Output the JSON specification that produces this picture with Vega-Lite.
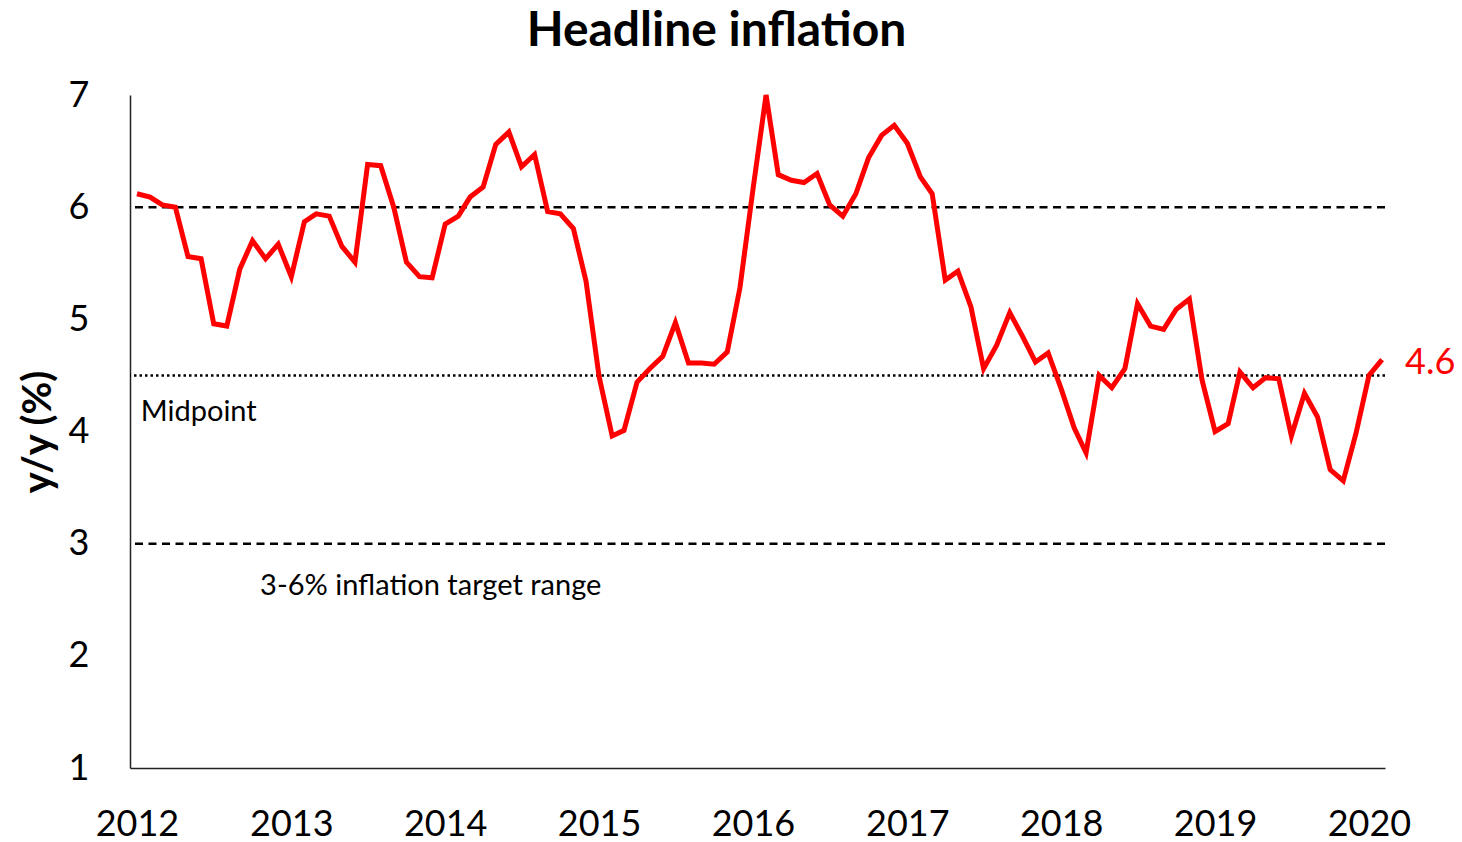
{
  "$schema": "https://vega.github.io/schema/vega-lite/v6.json",
  "width": 1255,
  "height": 673,
  "autosize": {"type": "none"},
  "padding": {"left": 130, "top": 95, "right": 77, "bottom": 74},
  "background": "white",
  "config": {
    "view": {"stroke": null},
    "font": "Lato"
  },
  "title": {
    "text": "Headline inflation",
    "font": "Lato",
    "fontSize": 48,
    "fontWeight": "bold",
    "color": "black",
    "anchor": "middle",
    "frame": "group",
    "dx": -41,
    "offset": 21
  },
  "datasets": {
    "cpi": [
      {"date": "2012-01-01", "value": 6.12}, {"date": "2012-02-01", "value": 6.09}, {"date": "2012-03-01", "value": 6.02}, {"date": "2012-04-01", "value": 6.00},
      {"date": "2012-05-01", "value": 5.56}, {"date": "2012-06-01", "value": 5.54}, {"date": "2012-07-01", "value": 4.96}, {"date": "2012-08-01", "value": 4.94},
      {"date": "2012-09-01", "value": 5.45}, {"date": "2012-10-01", "value": 5.70}, {"date": "2012-11-01", "value": 5.54}, {"date": "2012-12-01", "value": 5.67},
      {"date": "2013-01-01", "value": 5.38}, {"date": "2013-02-01", "value": 5.87}, {"date": "2013-03-01", "value": 5.94}, {"date": "2013-04-01", "value": 5.92},
      {"date": "2013-05-01", "value": 5.65}, {"date": "2013-06-01", "value": 5.51}, {"date": "2013-07-01", "value": 6.38}, {"date": "2013-08-01", "value": 6.37},
      {"date": "2013-09-01", "value": 6.00}, {"date": "2013-10-01", "value": 5.51}, {"date": "2013-11-01", "value": 5.38}, {"date": "2013-12-01", "value": 5.37},
      {"date": "2014-01-01", "value": 5.85}, {"date": "2014-02-01", "value": 5.92}, {"date": "2014-03-01", "value": 6.09}, {"date": "2014-04-01", "value": 6.18},
      {"date": "2014-05-01", "value": 6.56}, {"date": "2014-06-01", "value": 6.67}, {"date": "2014-07-01", "value": 6.36}, {"date": "2014-08-01", "value": 6.47},
      {"date": "2014-09-01", "value": 5.96}, {"date": "2014-10-01", "value": 5.94}, {"date": "2014-11-01", "value": 5.81}, {"date": "2014-12-01", "value": 5.34},
      {"date": "2015-01-01", "value": 4.49}, {"date": "2015-02-01", "value": 3.96}, {"date": "2015-03-01", "value": 4.01}, {"date": "2015-04-01", "value": 4.44},
      {"date": "2015-05-01", "value": 4.56}, {"date": "2015-06-01", "value": 4.67}, {"date": "2015-07-01", "value": 4.97}, {"date": "2015-08-01", "value": 4.61},
      {"date": "2015-09-01", "value": 4.61}, {"date": "2015-10-01", "value": 4.60}, {"date": "2015-11-01", "value": 4.71}, {"date": "2015-12-01", "value": 5.28},
      {"date": "2016-01-01", "value": 6.16}, {"date": "2016-02-01", "value": 7.00}, {"date": "2016-03-01", "value": 6.29}, {"date": "2016-04-01", "value": 6.24},
      {"date": "2016-05-01", "value": 6.22}, {"date": "2016-06-01", "value": 6.30}, {"date": "2016-07-01", "value": 6.02}, {"date": "2016-08-01", "value": 5.92},
      {"date": "2016-09-01", "value": 6.12}, {"date": "2016-10-01", "value": 6.44}, {"date": "2016-11-01", "value": 6.64}, {"date": "2016-12-01", "value": 6.73},
      {"date": "2017-01-01", "value": 6.57}, {"date": "2017-02-01", "value": 6.27}, {"date": "2017-03-01", "value": 6.12}, {"date": "2017-04-01", "value": 5.35},
      {"date": "2017-05-01", "value": 5.43}, {"date": "2017-06-01", "value": 5.11}, {"date": "2017-07-01", "value": 4.56}, {"date": "2017-08-01", "value": 4.77},
      {"date": "2017-09-01", "value": 5.06}, {"date": "2017-10-01", "value": 4.85}, {"date": "2017-11-01", "value": 4.62}, {"date": "2017-12-01", "value": 4.70},
      {"date": "2018-01-01", "value": 4.38}, {"date": "2018-02-01", "value": 4.03}, {"date": "2018-03-01", "value": 3.81}, {"date": "2018-04-01", "value": 4.50},
      {"date": "2018-05-01", "value": 4.39}, {"date": "2018-06-01", "value": 4.56}, {"date": "2018-07-01", "value": 5.14}, {"date": "2018-08-01", "value": 4.94},
      {"date": "2018-09-01", "value": 4.91}, {"date": "2018-10-01", "value": 5.09}, {"date": "2018-11-01", "value": 5.18}, {"date": "2018-12-01", "value": 4.46},
      {"date": "2019-01-01", "value": 4.00}, {"date": "2019-02-01", "value": 4.07}, {"date": "2019-03-01", "value": 4.53}, {"date": "2019-04-01", "value": 4.39},
      {"date": "2019-05-01", "value": 4.48}, {"date": "2019-06-01", "value": 4.47}, {"date": "2019-07-01", "value": 3.96}, {"date": "2019-08-01", "value": 4.34},
      {"date": "2019-09-01", "value": 4.13}, {"date": "2019-10-01", "value": 3.66}, {"date": "2019-11-01", "value": 3.56}, {"date": "2019-12-01", "value": 3.98},
      {"date": "2020-01-01", "value": 4.50}, {"date": "2020-02-01", "value": 4.64}
    ],
    "target": [{"level": 6}, {"level": 3}],
    "midpoint": [{"level": 4.5}],
    "notes": [
      {"date": "2012-01-10", "value": 4.17, "label": "Midpoint"},
      {"date": "2012-10-19", "value": 2.62, "label": "3-6% inflation target range"}
    ],
    "last": [{"date": "2020-02-01", "value": 4.64, "label": "4.6"}]
  },
  "encoding": {
    "x": {
      "field": "date",
      "type": "temporal",
      "scale": {
        "type": "utc",
        "domain": [
          {"year": 2011, "month": 12, "date": 15, "hours": 10, "utc": true},
          {"year": 2020, "month": 2, "date": 8, "utc": true}
        ]
      },
      "axis": {
        "title": null,
        "values": [
          {"year": 2012, "month": 1, "date": 1, "utc": true},
          {"year": 2013, "month": 1, "date": 1, "utc": true},
          {"year": 2014, "month": 1, "date": 1, "utc": true},
          {"year": 2015, "month": 1, "date": 1, "utc": true},
          {"year": 2016, "month": 1, "date": 1, "utc": true},
          {"year": 2017, "month": 1, "date": 1, "utc": true},
          {"year": 2018, "month": 1, "date": 1, "utc": true},
          {"year": 2019, "month": 1, "date": 1, "utc": true},
          {"year": 2020, "month": 1, "date": 1, "utc": true}
        ],
        "format": "%Y",
        "grid": false,
        "ticks": false,
        "domainColor": "#222222",
        "domainWidth": 1.5,
        "labelFont": "Lato",
        "labelFontSize": 36,
        "labelColor": "black",
        "labelPadding": 39,
        "labelFlush": false,
        "labelOverlap": false
      }
    },
    "y": {
      "field": "value",
      "type": "quantitative",
      "scale": {"domain": [1, 7], "nice": false, "zero": false},
      "axis": {
        "title": "y/y (%)",
        "titleFont": "Lato",
        "titleFontSize": 40,
        "titleFontWeight": "bold",
        "titleColor": "black",
        "titlePadding": 10,
        "values": [1, 2, 3, 4, 5, 6, 7],
        "grid": false,
        "ticks": false,
        "domainColor": "#222222",
        "domainWidth": 1.5,
        "labelFont": "Lato",
        "labelFontSize": 36,
        "labelColor": "black",
        "labelPadding": 41
      }
    }
  },
  "layer": [
    {
      "data": {"name": "target"},
      "mark": {"type": "rule", "color": "black", "strokeWidth": 2.5, "strokeDash": [8, 5.5]},
      "encoding": {"y": {"field": "level", "type": "quantitative"}, "x": null}
    },
    {
      "data": {"name": "midpoint"},
      "mark": {"type": "rule", "color": "black", "strokeWidth": 2.5, "strokeDash": [2.5, 3]},
      "encoding": {"y": {"field": "level", "type": "quantitative"}, "x": null}
    },
    {
      "data": {"name": "cpi"},
      "mark": {"type": "line", "color": "#FF0000", "strokeWidth": 5, "strokeJoin": "miter", "clip": false}
    },
    {
      "data": {"name": "notes"},
      "mark": {"type": "text", "align": "left", "baseline": "middle", "font": "Lato", "fontSize": 29, "color": "black"},
      "encoding": {"text": {"field": "label"}}
    },
    {
      "data": {"name": "last"},
      "mark": {"type": "text", "align": "left", "baseline": "middle", "dx": 23, "dy": 3, "font": "Lato", "fontSize": 36, "color": "#FF0000"},
      "encoding": {"text": {"field": "label"}}
    }
  ]
}
